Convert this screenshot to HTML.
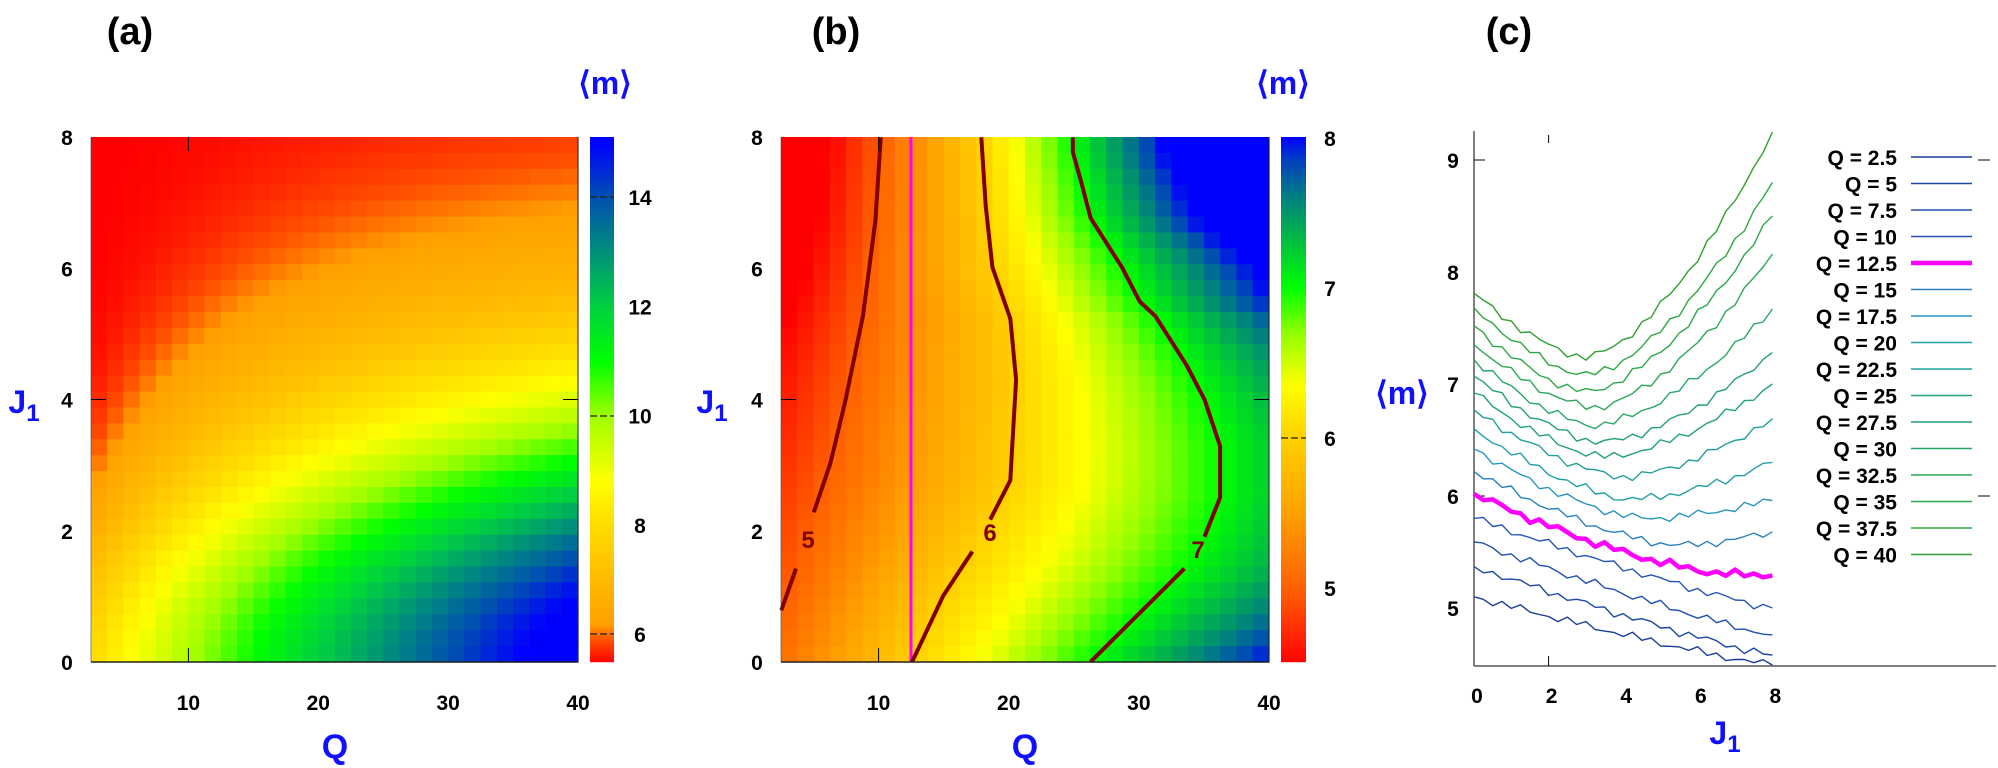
<!DOCTYPE html>
<html><head><meta charset="utf-8"><style>
html,body{margin:0;padding:0;background:#fff;}
svg{display:block;}
text{font-family:"Liberation Sans",Arial,sans-serif;font-weight:bold;}
</style></head><body>
<svg id="s" width="1998" height="768" xmlns="http://www.w3.org/2000/svg">
<g id="hm"></g>
<g id="ov"></g>
</svg>
<script>
const NS="http://www.w3.org/2000/svg";
const hm=document.getElementById('hm'), ov=document.getElementById('ov');
function el(tag,attrs,parent,txt){const e=document.createElementNS(NS,tag);for(const k in attrs)e.setAttribute(k,attrs[k]);if(txt!==undefined)e.textContent=txt;(parent||ov).appendChild(e);return e;}
function hex(c){return [parseInt(c.substr(1,2),16),parseInt(c.substr(3,2),16),parseInt(c.substr(5,2),16)];}
function pal(stops,v){
  if(v<=stops[0][0])return stops[0][1];
  for(let i=1;i<stops.length;i++){if(v<=stops[i][0]){const a=stops[i-1],b=stops[i];const t=(v-a[0])/(b[0]-a[0]);const ca=hex(a[1]),cb=hex(b[1]);return 'rgb('+ca.map((x,j)=>Math.round(x+(cb[j]-x)*t)).join(',')+')';}}
  return stops[stops.length-1][1];
}
const PA=[[5.5,'#ff0000'],[5.9,'#ff5000'],[6.2,'#ffa000'],[7.2,'#ffc000'],[8,'#ffdc00'],[8.8,'#ffff00'],[10,'#a0ff00'],[11,'#00ff00'],[12,'#00d040'],[13,'#00907a'],[14,'#0050b0'],[15,'#0000ff']];
const PB=[[4.5,'#ff0000'],[5,'#ff6000'],[5.5,'#ffa000'],[6,'#ffd000'],[6.35,'#ffff00'],[6.7,'#90ff00'],[7,'#00ff00'],[7.3,'#00c040'],[7.6,'#008080'],[7.85,'#0040c0'],[8,'#0000ff']];

// ---------- Panel a ----------
const aL=91,aR=578,aT=137,aB=662;
function ma(Q,J){const A=2.3+8*Math.pow((Q-2.5)/37.5,0.85);const s=2.3+1.7*(1-Math.exp(-(Q-2.5)/8));return Math.min(15,5.5+A*Math.exp(-Math.pow(J/s,1.8)));}
const NC=30,NR=33;
for(let i=0;i<NC;i++)for(let j=0;j<NR;j++){
  const x0=aL+(aR-aL)*i/NC,x1=aL+(aR-aL)*(i+1)/NC,y0=aT+(aB-aT)*j/NR,y1=aT+(aB-aT)*(j+1)/NR;
  const Q=2.5+37.5*((i+0.5)/NC),J=8*(1-(j+0.5)/NR);
  el('rect',{x:x0.toFixed(2),y:y0.toFixed(2),width:(x1-x0+0.6).toFixed(2),height:(y1-y0+0.6).toFixed(2),fill:pal(PA,ma(Q,J))},hm);
}
for(let y=aT;y<aB;y++){const v=5.5+(aB-y)/(aB-aT)*(15.1-5.5);el('rect',{x:590,y:y,width:24,height:1.2,fill:pal(PA,v)},hm);}
// ---------- Panel b ----------
const bL=781,bR=1269,bT=137,bB=662;
function cv(pts){return pts.map(p=>[700+p[0]/2.24,p[1]/2.04]);}
const C5=cv([[182,1245],[215,1160],[255,1045],[292,945],[325,820],[365,645],[393,450],[405,280]]);
const C6=cv([[475,1350],[545,1215],[610,1125],[650,1060],[695,980],[700,900],[708,775],[695,650],[655,545],[640,420],[630,280]]);
const C7=cv([[875,1350],[1085,1160],[1130,1095],[1165,1015],[1165,910],[1130,815],[1090,745],[1020,645],[985,615],[945,545],[875,445],[855,375],[835,310],[835,280]]);
function xat(C,y){
  for(let i=1;i<C.length;i++){const a=C[i-1],b=C[i];if((y<=a[1]&&y>=b[1])){const t=(y-a[1])/(b[1]-a[1]);return a[0]+(b[0]-a[0])*t;}}
  if(y>C[0][1]){const a=C[0],b=C[1];return a[0]+(b[0]-a[0])*(y-a[1])/(b[1]-a[1]);}
  return C[C.length-1][0];
}
function mb(px,py){
  const x5=xat(C5,py),x6=xat(C6,py),x7=xat(C7,py);let m;
  if(px<x6){m=6-(x6-px)/(x6-x5);} else if(px<x7){m=6+(px-x6)/(x7-x6);} else {m=7+(px-x7)/(x7-x6);}
  return Math.max(4.5,Math.min(8,m));
}
for(let i=0;i<NC;i++)for(let j=0;j<NR;j++){
  const x0=bL+(bR-bL)*i/NC,x1=bL+(bR-bL)*(i+1)/NC,y0=bT+(bB-bT)*j/NR,y1=bT+(bB-bT)*(j+1)/NR;
  el('rect',{x:x0.toFixed(2),y:y0.toFixed(2),width:(x1-x0+0.6).toFixed(2),height:(y1-y0+0.6).toFixed(2),fill:pal(PB,mb((x0+x1)/2,(y0+y1)/2))},hm);
}
for(let y=bT;y<bB;y++){const v=4.51+(bB-y)/(bB-bT)*(8-4.51);el('rect',{x:1281,y:y,width:25,height:1.2,fill:pal(PB,v)},hm);}
el('line',{x1:911,y1:bT,x2:911,y2:bB,stroke:'#ff00ff','stroke-width':3});
function pl(C,attrs){el('polyline',Object.assign({points:C.map(p=>p[0].toFixed(1)+','+p[1].toFixed(1)).join(' '),fill:'none'},attrs));}
const cst={stroke:'#800000','stroke-width':4,'stroke-linejoin':'round'};
pl(C5.slice(0,2),cst);pl(C5.slice(2),cst);
pl(C6.slice(0,3),cst);pl(C6.slice(3),cst);
pl(C7.slice(0,2),cst);pl(C7.slice(2),cst);
el('text',{x:808,y:548,'font-size':24,fill:'#800000','text-anchor':'middle'},ov,'5');
el('text',{x:990,y:541,'font-size':24,fill:'#800000','text-anchor':'middle'},ov,'6');
el('text',{x:1198,y:558,'font-size':24,fill:'#800000','text-anchor':'middle'},ov,'7');

for(const [L,R,T,B] of [[aL,aR,aT,aB],[bL,bR,bT,bB]]){
  el('line',{x1:L,y1:B,x2:R,y2:B,stroke:'#222','stroke-width':1.5});
  el('line',{x1:R,y1:T,x2:R,y2:B,stroke:'#222','stroke-width':1});
  el('line',{x1:L,y1:T,x2:L,y2:B,stroke:'#444','stroke-width':0.6});
  el('line',{x1:L,y1:(T+B)/2,x2:L+15,y2:(T+B)/2,stroke:'#000','stroke-width':1});
  el('line',{x1:R-15,y1:(T+B)/2,x2:R,y2:(T+B)/2,stroke:'#000','stroke-width':1});
  const xq=L+(10-2.5)*(R-L)/37.5;
  el('line',{x1:xq,y1:B,x2:xq,y2:B-14,stroke:'#000','stroke-width':1});
  el('line',{x1:xq,y1:T,x2:xq,y2:T+14,stroke:'#000','stroke-width':1});
}
function dash(x,y,w){el('line',{x1:x,y1:y,x2:x+w,y2:y,stroke:'#222','stroke-width':1.2,'stroke-dasharray':'7,3'});}
dash(590,634,24);dash(590,416,24);dash(590,197,24);
dash(1281,438,25);
function T(x,y,s,size,anchor,fill){el('text',{x:x,y:y,'font-size':size||21,'text-anchor':anchor||'middle',fill:fill||'#000'},ov,s);}
const yl=['0','2','4','6','8'];
for(let k=0;k<5;k++){const y=aB-k*(aB-aT)/4;T(67,y+8,yl[k]);T(757,y+8,yl[k]);}
for(const q of [10,20,30,40]){T(aL+(q-2.5)*(aR-aL)/37.5,710,String(q));T(bL+(q-2.5)*(bR-bL)/37.5,710,String(q));}
for(const v of [6,8,10,12,14]){T(640,634-(v-6)*54.6+8,String(v));}
for(const v of [5,6,7,8]){T(1330,138+(8-v)*150+8,String(v));}
T(130,44,'(a)',38);T(836,44,'(b)',38);T(1509,44,'(c)',38);
const B='#1010ff';
T(605,94,'⟨m⟩',32,'middle',B);T(1283,94,'⟨m⟩',32,'middle',B);T(1402,404,'⟨m⟩',32,'middle',B);
function J1(x,y){const t=el('text',{x:x,y:y,'font-size':32,'text-anchor':'middle',fill:B},ov);t.textContent='J';const s=el('tspan',{'font-size':24,dy:8},t);s.textContent='1';}
J1(24,413);J1(712,413);J1(1725,744);
T(335,758,'Q',34,'middle',B);T(1025,758,'Q',34,'middle',B);

// ---------- Panel c ----------
const cX0=1474,cY=666,cTop=131,sx=37.3;
function px(J){return cX0+J*sx;} function py(m){return 496-(m-6)*112;}
el('line',{x1:cX0,y1:cTop,x2:cX0,y2:cY,stroke:'#555','stroke-width':1.5});
el('line',{x1:cX0,y1:cY,x2:1996,y2:cY,stroke:'#555','stroke-width':1.5});
el('line',{x1:px(2),y1:cY,x2:px(2),y2:cY-10,stroke:'#000','stroke-width':1});
el('line',{x1:px(2),y1:cTop+4,x2:px(2),y2:cTop+12,stroke:'#000','stroke-width':1});
el('line',{x1:cX0,y1:py(9),x2:cX0+11,y2:py(9),stroke:'#000','stroke-width':1});
el('line',{x1:cX0,y1:py(6),x2:cX0+11,y2:py(6),stroke:'#000','stroke-width':1});
el('line',{x1:1978,y1:py(9),x2:1990,y2:py(9),stroke:'#000','stroke-width':1});
el('line',{x1:1978,y1:py(6),x2:1990,y2:py(6),stroke:'#000','stroke-width':1});
for(const m of [5,6,7,8,9])T(1453,py(m)+8,String(m));
for(const J of [0,2,4,6,8])T(px(J)+3,703,String(J));
const P=[
[2.5,5.1,8,4.49,4.49,'#1a3c9c'],
[5,5.37,8,4.58,4.58,'#1c46a8'],
[7.5,5.59,8,4.76,4.76,'#2050b0'],
[10,5.8,8,5.0,5.0,'#2256b8'],
[12.5,6.02,7,5.3,5.29,'#ff00ff'],
[15,6.22,5.5,5.56,5.68,'#2a80c0'],
[17.5,6.42,4.6,5.8,5.96,'#2a96c0'],
[20,6.6,4.2,5.97,6.3,'#20a0a8'],
[22.5,6.77,4.0,6.17,6.69,'#20a098'],
[25,6.92,3.5,6.35,7.0,'#20a080'],
[27.5,7.07,3.4,6.48,7.28,'#22a070'],
[30,7.22,3.2,6.63,7.67,'#28a868'],
[32.5,7.35,3.2,6.79,8.16,'#2aa858'],
[35,7.52,3.0,6.93,8.5,'#2ca848'],
[37.5,7.68,3.0,7.08,8.8,'#2ea840'],
[40,7.81,3.0,7.24,9.25,'#30a030']];
P.forEach((p,idx)=>{
  const [q,m0,jm,mm,m8,col]=p;const pts=[];
  for(let k=0;k<=32;k++){const J=k*0.25;let m;
    if(J<=jm){m=mm+(m0-mm)*Math.pow((jm-J)/jm,jm>=7.9?1.15:1.5);}else{m=mm+(m8-mm)*Math.pow((J-jm)/(8-jm),1.6);}
    if(k>0&&k<32)m+=0.028*Math.sin(k*2.7+idx*1.9)+0.015*Math.sin(k*5.3+idx);
    pts.push(px(J).toFixed(1)+','+py(m).toFixed(1));}
  el('polyline',{points:pts.join(' '),fill:'none',stroke:col,'stroke-width':q===12.5?4.5:1.4,'stroke-linejoin':'round'});
});
P.forEach((p,i)=>{const y=157+i*26.5;
  T(1897,y+8,'Q = '+p[0],21,'end');
  el('line',{x1:1911,y1:y,x2:1972,y2:y,stroke:p[5],'stroke-width':p[0]===12.5?4.5:1.6});
});
</script>
</body></html>
